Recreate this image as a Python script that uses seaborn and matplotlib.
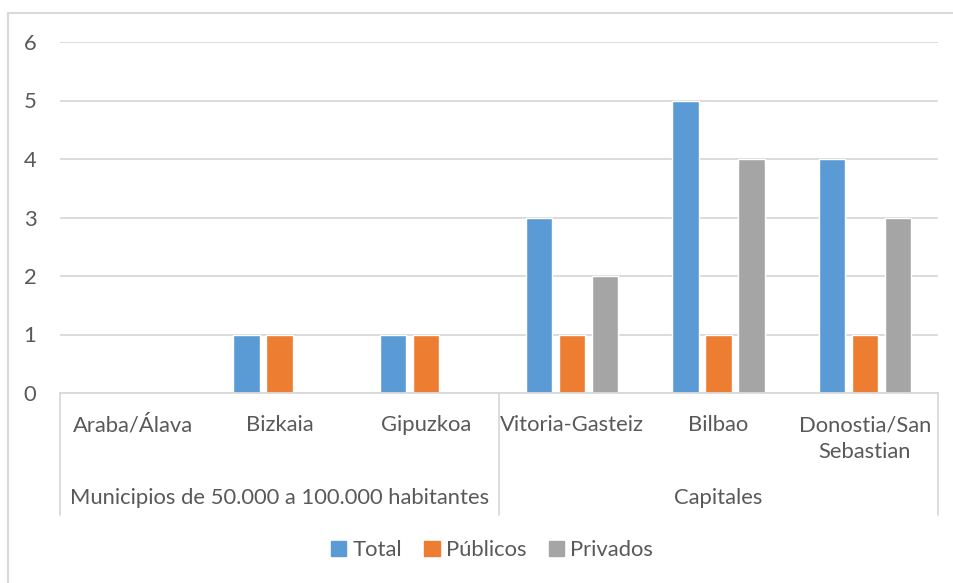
import pandas as pd
import matplotlib.pyplot as plt
import seaborn as sns
from matplotlib.patches import Rectangle

sns.set_theme(style="white")
plt.rcParams['font.family'] = ['Lato', 'DejaVu Sans']

# Data
municipios = ['Araba/Álava', 'Bizkaia', 'Gipuzkoa', 'Vitoria-Gasteiz', 'Bilbao', 'Donostia/San\nSebastian']
grupos = ['Municipios de 50.000 a 100.000 habitantes', 'Capitales']
total = [0, 1, 1, 3, 5, 4]
publicos = [0, 1, 1, 1, 1, 1]
privados = [0, 0, 0, 2, 4, 3]
series = ['Total', 'Públicos', 'Privados']
colores = ['#5B9BD5', '#ED7D31', '#A5A5A5']

df = pd.DataFrame({'municipio': municipios, 'Total': total, 'Públicos': publicos, 'Privados': privados})
df = df.melt(id_vars='municipio', value_vars=series, var_name='tipo', value_name='valor')

W, H = 954, 583
fs = 15.8
fig = plt.figure(figsize=(W / 100, H / 100), dpi=100)
ax = fig.add_axes([60 / W, 1 - 393 / H, (938 - 60) / W, (393 - 42) / H])

sns.barplot(data=df, x='municipio', y='valor', hue='tipo', order=municipios, hue_order=series,
            palette=colores, width=0.675, gap=0.2, ax=ax, legend=False, saturation=1)

txt = '#595959'
grid = '#D9D9D9'
ax.set_ylim(0, 6)
ax.set_xlim(-0.5, len(municipios) - 0.5)
ax.set_yticks(range(7))
ax.yaxis.grid(True, color=grid, linewidth=1.3)
ax.set_axisbelow(True)
for s in ['top', 'right', 'left']:
    ax.spines[s].set_visible(False)
ax.spines['bottom'].set_color(grid)
ax.spines['bottom'].set_linewidth(1.3)
ax.tick_params(axis='both', length=0, colors=txt, labelsize=fs)
ax.tick_params(axis='y', pad=17)
ax.tick_params(axis='x', pad=16)
for lab in ax.get_xticklabels():
    lab.set_linespacing(1.4)
ax.set_xlabel('')
ax.set_ylabel('')

# Category group labels and separators
tr = ax.get_xaxis_transform()
h_px = 393 - 42
ax.text(1, -(498 - 393) / h_px, grupos[0], transform=tr, ha='center', va='center', color=txt, fontsize=fs)
ax.text(4, -(498 - 393) / h_px, grupos[1], transform=tr, ha='center', va='center', color=txt, fontsize=fs)
for xs in [-0.5, 2.5, 5.5]:
    ax.plot([xs, xs], [0, -(515 - 393) / h_px], transform=tr, color=grid, lw=1.3, clip_on=False)

# Legend
handles = [Rectangle((0, 0), 1, 1, color=c) for c in colores]
fig.legend(handles, series, loc='center', bbox_to_anchor=(492 / W, 1 - 550 / H), ncol=3, frameon=False,
           handlelength=0.7, handleheight=0.7, handletextpad=0.3, columnspacing=1.0,
           fontsize=fs, labelcolor=txt)

# Chart border
fig.patches.append(Rectangle((8 / W, -0.1), 1.2, 1 - 13 / H + 0.1, transform=fig.transFigure,
                             fill=False, edgecolor=grid, lw=1.5))

fig.savefig('out.png', dpi=100)
